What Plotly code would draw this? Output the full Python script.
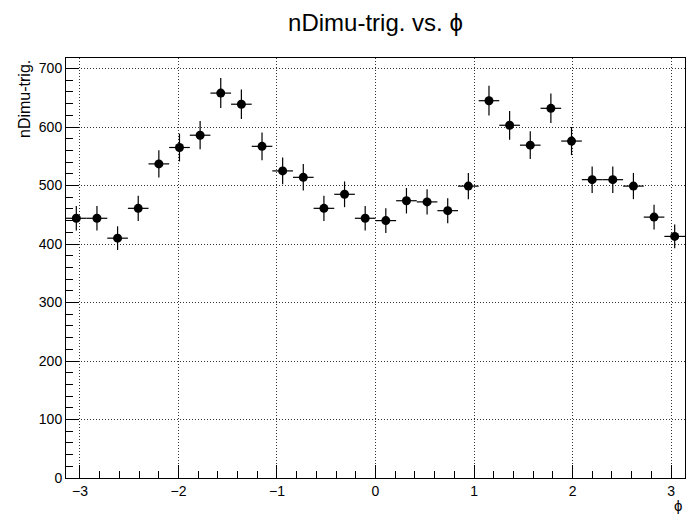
import numpy as np
import plotly.graph_objects as go

# Histogram contents: 30 bins in phi over [-pi, pi]
n_bins = 30
phi_low, phi_high = -np.pi, np.pi
counts = [444, 444, 410, 461, 537, 565, 586, 658, 639, 567,
          525, 514, 461, 485, 444, 440, 474, 472, 457, 499,
          645, 603, 569, 632, 576, 510, 510, 499, 446, 413]

y_ticks = [0, 100, 200, 300, 400, 500, 600, 700]
x_ticks = [-3, -2, -1, 0, 1, 2, 3]

bin_width = (phi_high - phi_low) / n_bins
centers = phi_low + (np.arange(n_bins) + 0.5) * bin_width
errors = np.sqrt(np.array(counts, dtype=float))  # Poisson errors

FONT = "Liberation Sans, Arial, Helvetica, sans-serif"
PHI = "\u03d5"

W, H = 687, 517
M_L, M_R, M_T, M_B = 66, 2, 58, 39

fig = go.Figure()
fig.add_trace(go.Scatter(
    x=centers,
    y=counts,
    mode="markers",
    marker=dict(color="black", size=9, symbol="circle"),
    error_y=dict(type="data", array=errors, visible=True,
                 color="black", thickness=1.2, width=0),
    error_x=dict(type="constant", value=bin_width / 2, visible=True,
                 color="black", thickness=1.2, width=0),
    showlegend=False,
    hoverinfo="x+y",
))

axis_common = dict(
    showline=True, linecolor="black", linewidth=1, mirror=True,
    ticks="inside", ticklen=13, tickcolor="black", tickwidth=1,
    showgrid=True, gridcolor="#333333", griddash="1px,2px", gridwidth=1,
    zeroline=False,
    tickfont=dict(family=FONT, size=14, color="black"),
)

fig.update_layout(
    width=W, height=H,
    margin=dict(l=M_L, r=M_R, t=M_T, b=M_B),
    paper_bgcolor="white", plot_bgcolor="white",
    font=dict(family=FONT, color="black"),
    title=dict(
        text="nDimu-trig. vs. " + PHI,
        x=0.5, xref="paper", xanchor="center",
        y=1 - 23 / H, yref="container", yanchor="middle",
        font=dict(family=FONT, size=24, color="black"),
    ),
    xaxis=dict(
        range=[phi_low, phi_high],
        tickmode="array", tickvals=x_ticks,
        ticktext=[str(v).replace("-", "\u2212") for v in x_ticks],
        minor=dict(dtick=0.2, tick0=0, ticks="inside", ticklen=7,
                   tickcolor="black", showgrid=False),
        **axis_common,
    ),
    yaxis=dict(
        range=[0, 718],
        tickmode="array", tickvals=y_ticks,
        ticktext=[str(v) for v in y_ticks],
        minor=dict(dtick=20, tick0=0, ticks="inside", ticklen=7,
                   tickcolor="black", showgrid=False),
        **axis_common,
    ),
    annotations=[
        dict(text="nDimu-trig.", textangle=-90,
             x=(24 - M_L) / (W - M_L - M_R), xref="paper", y=1, yref="paper",
             xanchor="center", yanchor="top", showarrow=False,
             font=dict(family=FONT, size=16, color="black")),
        dict(text=PHI, x=(684 - M_L) / (W - M_L - M_R), xref="paper",
             y=-(505 - (H - M_B)) / (H - M_T - M_B), yref="paper",
             xanchor="right", yanchor="middle", showarrow=False,
             font=dict(family=FONT, size=15, color="black")),
    ],
)

fig.write_html("out.html")
